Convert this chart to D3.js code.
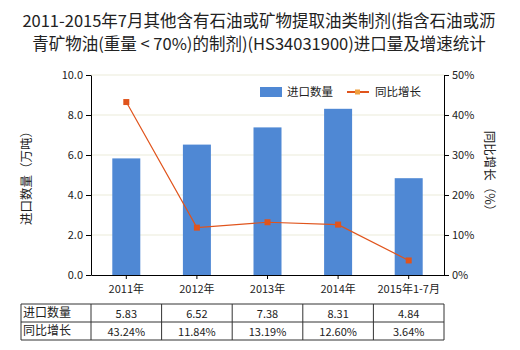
<!DOCTYPE html>
<html><head><meta charset="utf-8">
<script src="https://cdn.jsdelivr.net/npm/d3@7"></script>
<style>
body{margin:0;background:#fff;}
text{font-family:"Noto Sans CJK SC","Microsoft YaHei",sans-serif;}
</style></head>
<body><svg id="c" width="520" height="350"></svg>
<script>
const categories = ["2011年","2012年","2013年","2014年","2015年1-7月"];
const importQty = [5.83, 6.52, 7.38, 8.31, 4.84];
const growth = [43.24, 11.84, 13.19, 12.60, 3.64];
const leftTicks = [0,2,4,6,8,10];
const rightTicks = [0,10,20,30,40,50];
const seriesNames = ["进口数量","同比增长"];

const svg = d3.select("#c");
const L = 91, R = 444, T = 75, B = 275;
const xc = d3.scaleBand().domain(categories).range([L, R]);
const y = d3.scaleLinear().domain([0,10]).range([B, T]);
const y2 = d3.scaleLinear().domain([0,50]).range([B, T]);

// title
const title = svg.append("text").attr("text-anchor","middle").attr("font-size",16.5).attr("fill","#222");
title.append("tspan").attr("x",259).attr("y",27).text("2011-2015年7月其他含有石油或矿物提取油类制剂(指含石油或沥");
title.append("tspan").attr("x",259).attr("y",50).text("青矿物油(重量 < 70%)的制剂)(HS34031900)进口量及增速统计");

// grid
svg.append("g").selectAll("line").data(leftTicks.slice(1)).join("line")
  .attr("x1",L).attr("x2",R).attr("y1",d=>y(d)).attr("y2",d=>y(d))
  .attr("stroke","#ebebd9").attr("stroke-width",1);

// bars
svg.append("g").selectAll("rect").data(importQty).join("rect")
  .attr("x",(d,i)=>xc(categories[i]) + xc.bandwidth()/2 - 14)
  .attr("width",28)
  .attr("y",d=>y(d)).attr("height",d=>B-y(d))
  .attr("fill","#4f88d4");

// axes
const ax = svg.append("g").attr("transform",`translate(${L},0)`)
  .call(d3.axisLeft(y).tickValues(leftTicks).tickFormat(d3.format(".1f")).tickSize(5).tickSizeOuter(0));
const ax2 = svg.append("g").attr("transform",`translate(${R},0)`)
  .call(d3.axisRight(y2).tickValues(rightTicks).tickFormat(d=>d+"%").tickSize(5).tickSizeOuter(0));
const axb = svg.append("g").attr("transform",`translate(0,${B})`)
  .call(d3.axisBottom(xc).tickSize(5).tickSizeOuter(0));
[ax,ax2,axb].forEach(g=>{
  g.selectAll("path,line").attr("stroke","#000");
  g.selectAll("text").attr("font-size",11).attr("fill","#222")
   .style("font-family","'Noto Sans CJK SC',sans-serif");
});
axb.selectAll("text").attr("dy","0.9em");
axb.selectAll(".tick line").attr("y2",4);

// line
const line = d3.line().x((d,i)=>xc(categories[i])+xc.bandwidth()/2).y(d=>y2(d));
svg.append("path").datum(growth).attr("d",line).attr("fill","none").attr("stroke","#e0541c").attr("stroke-width",1.2);
svg.append("g").selectAll("rect").data(growth).join("rect")
  .attr("x",(d,i)=>xc(categories[i])+xc.bandwidth()/2-3).attr("y",d=>y2(d)-3)
  .attr("width",6).attr("height",6).attr("fill","#e0541c");

// axis titles
svg.append("text").attr("transform",`translate(31,175) rotate(-90)`).attr("text-anchor","middle")
  .attr("font-size",12.5).attr("fill","#222").text("进口数量（万吨）");
svg.append("text").attr("transform",`translate(485,174) rotate(90)`).attr("text-anchor","middle")
  .attr("font-size",12.5).attr("fill","#222").text("同比增长（%）");

// legend
svg.append("rect").attr("x",260).attr("y",87).attr("width",22).attr("height",10).attr("fill","#4f88d4");
svg.append("text").attr("x",287).attr("y",96).attr("font-size",11.5).attr("fill","#222").text(seriesNames[0]);
svg.append("line").attr("x1",347).attr("x2",369).attr("y1",92).attr("y2",92).attr("stroke","#e0541c").attr("stroke-width",2);
svg.append("rect").attr("x",355).attr("y",89.5).attr("width",5).attr("height",5).attr("fill","#f0a040");
svg.append("text").attr("x",375).attr("y",96).attr("font-size",11.5).attr("fill","#222").text(seriesNames[1]);

// table
const tL = 21, rows = [304, 322, 340];
const colX = [tL].concat(categories.map(c=>xc(c))).concat([R]);
const tg = svg.append("g");
rows.forEach(r=>tg.append("line").attr("x1",tL).attr("x2",R).attr("y1",r).attr("y2",r).attr("stroke","#333"));
colX.forEach(cx=>tg.append("line").attr("x1",cx).attr("x2",cx).attr("y1",rows[0]).attr("y2",rows[2]).attr("stroke","#333"));
seriesNames.forEach((n,ri)=>{
  tg.append("text").attr("x",tL+2).attr("y",rows[ri]+13).attr("font-size",12).attr("fill","#222").text(n);
});
importQty.forEach((v,i)=>{
  tg.append("text").attr("x",xc(categories[i])+xc.bandwidth()/2).attr("y",rows[0]+14).attr("text-anchor","middle")
    .attr("font-size",11).attr("fill","#222").text(v.toFixed(2));
  tg.append("text").attr("x",xc(categories[i])+xc.bandwidth()/2).attr("y",rows[1]+14).attr("text-anchor","middle")
    .attr("font-size",11).attr("fill","#222").text(growth[i].toFixed(2)+"%");
});
</script></body></html>
